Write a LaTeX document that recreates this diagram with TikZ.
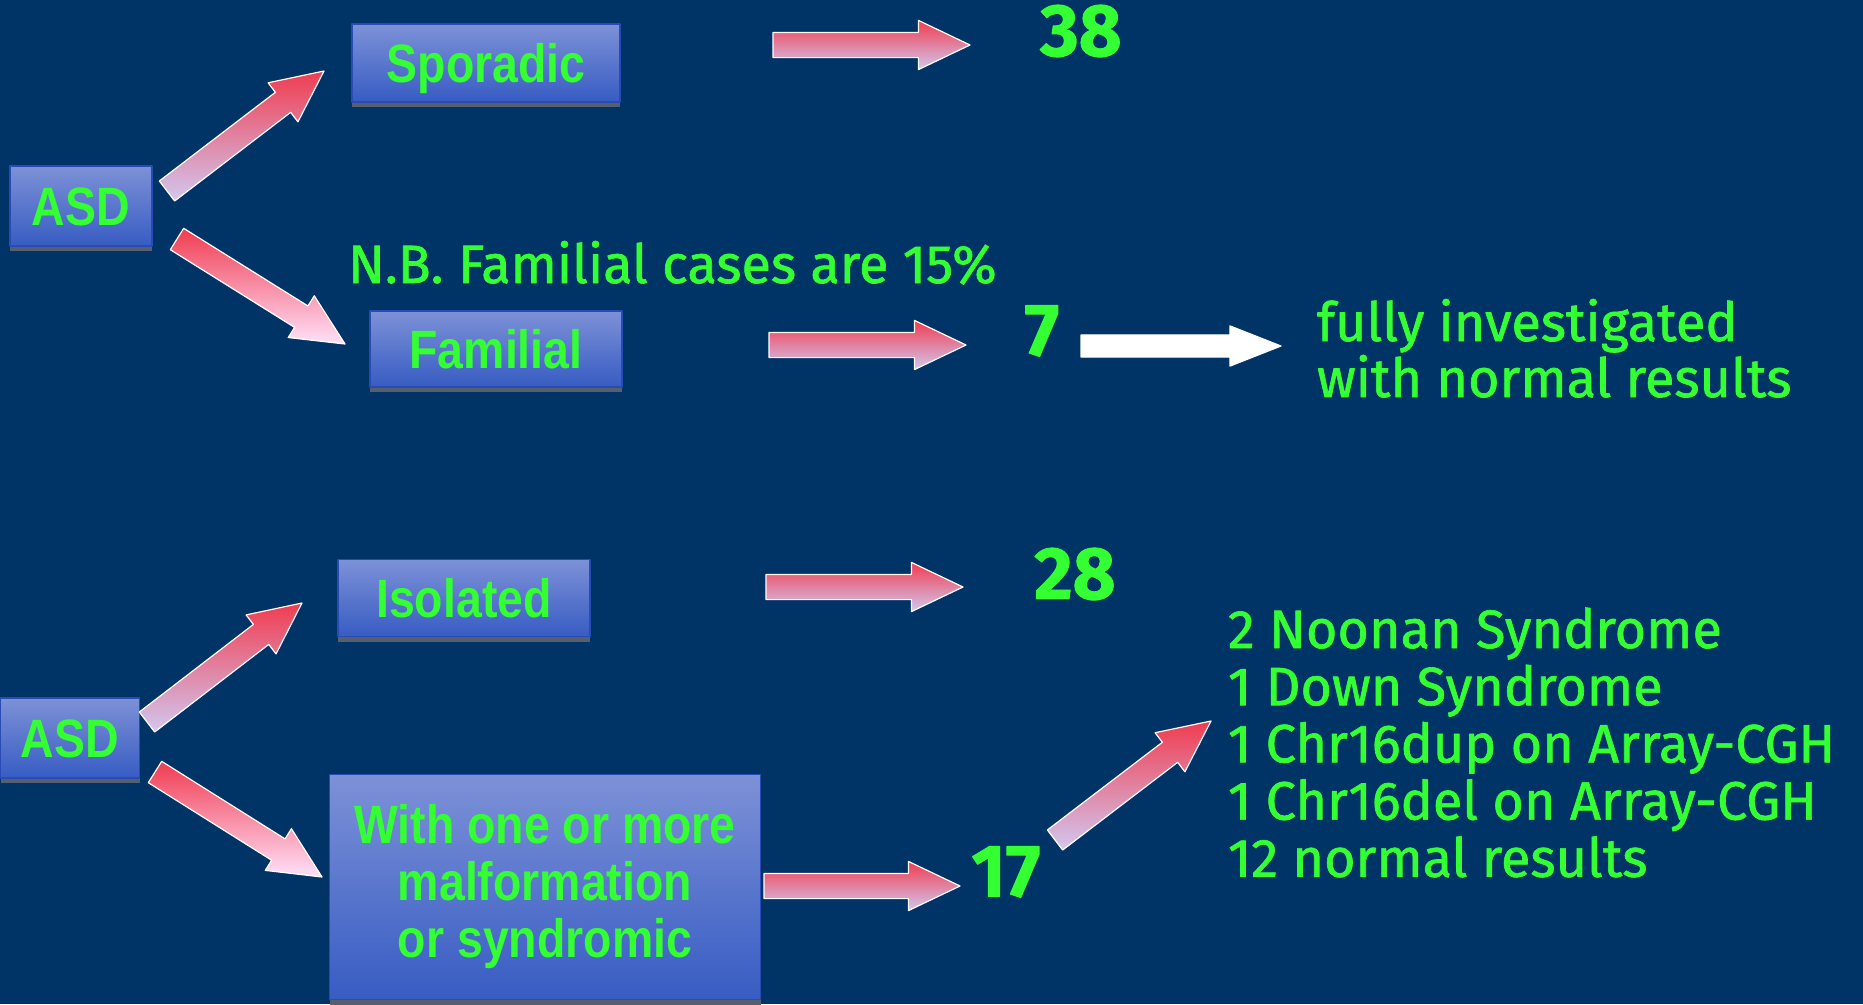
\documentclass[tikz,border=0pt]{standalone}
\usepackage{fontspec}
\usetikzlibrary{calc,shapes.arrows,shadows}
\newfontfamily\boxfont[FakeStretch=0.86]{Liberation Sans}
\newfontfamily\handfont[FakeBold=1.2]{Fira Sans}

\begin{document}
\begin{tikzpicture}[x=1pt, y=-1pt, line join=round,
    every node/.style={inner sep=0pt, outer sep=0pt},
    box/.style={draw=boxEdge, line width=1.2pt, top color=boxTop, bottom color=boxBot,
      text=txtGreen, align=center, font=\boxfont\bfseries\fontsize{54}{57}\selectfont,
      drop shadow={shadow xshift=0pt, shadow yshift=-5pt, fill=shadowGray, opacity=1}},
    onebox/.style={box, text height=39pt, text depth=0pt},
    hand/.style={text=txtGreen, anchor=base west, font=\handfont\fontsize{54}{57}\selectfont},
    count/.style={text=txtGreen, font=\handfont\bfseries\fontsize{74}{80}\selectfont},
    arrowbase/.style={single arrow, draw=white, line width=1.2pt, inner xsep=0pt,
      single arrow head indent=0pt, anchor=tail},
    fat/.style={arrowbase, inner ysep=12pt, single arrow head extend=12pt,
      single arrow tip angle=51, top color=arRed, bottom color=arLav},
    plainarr/.style={arrowbase, fill=white, inner ysep=10.5pt,
      single arrow head extend=9pt, single arrow tip angle=43}]
    \definecolor{bgNavy}{RGB}{0,51,102}
    \definecolor{txtGreen}{RGB}{51,255,51}
    \definecolor{boxTop}{RGB}{125,145,215}
    \definecolor{boxBot}{RGB}{55,92,195}
    \definecolor{boxEdge}{RGB}{40,75,180}
    \definecolor{shadowGray}{RGB}{85,95,110}
    \definecolor{arRed}{RGB}{240,60,80}
    \definecolor{arLav}{RGB}{210,200,240}
    \definecolor{arPink}{RGB}{255,225,250}
    % background and page size
    \fill[bgNavy] (0,0) rectangle (1863,1004);
    \useasboundingbox (0,0) rectangle (1863,1004);
    % ==== upper tree: sporadic / familial ====
    \node[onebox, minimum width=142pt, minimum height=80pt] (asdA) at (81,206) {ASD};
    \node[onebox, minimum width=268pt, minimum height=78pt] (spor) at (486,63) {Sporadic};
    \node[onebox, minimum width=252pt, minimum height=76pt] (fam) at (496,349) {Familial};
    \node[hand] (nb) at (348,283) {N.B. Familial cases are 15\%};
    \node[count] (n38) at (1081,31) {38};
    \node[count] (n7) at (1042,331) {7};
    \foreach \line [count=\i from 0] in {fully investigated, with normal results}
      \node[hand] (inv\i) at (1317,341+56*\i) {\line};
    % ==== lower tree: isolated / syndromic ====
    \node[onebox, minimum width=139pt, minimum height=80pt] (asdB) at (70,738) {ASD};
    \node[onebox, minimum width=252pt, minimum height=77pt] (iso) at (464,598) {Isolated};
    \node[box, minimum width=431pt, minimum height=225pt] (malf) at (545,887)
      {With one or more\\malformation\\or syndromic};
    \node[count] (n28) at (1075,574) {28};
    \node[count] (n17) at (1006,872) {17};
    \foreach \line [count=\i from 0] in {2 Noonan Syndrome, 1 Down Syndrome,
        1 Chr16dup on Array-CGH, 1 Chr16del on Array-CGH, 12 normal results}
      \node[hand] (res\i) at (1228,648+57.2*\i) {\line};
    % ==== block arrows: tail and tip points ====
    \coordinate (tSpo) at (167,191);  \coordinate (hSpo) at (324,71);
    \coordinate (tFam) at (177,239);  \coordinate (hFam) at (345,344);
    \coordinate (tIso) at (147,722);  \coordinate (hIso) at (302,603);
    \coordinate (tMal) at (155,772);  \coordinate (hMal) at (322,877);
    \coordinate (tRes) at (1055,840); \coordinate (hRes) at (1211,721);
    \coordinate (tA38) at (773,45);   \coordinate (hA38) at (970,45);
    \coordinate (tA7) at (769,345);   \coordinate (hA7) at (966,345);
    \coordinate (tA28) at (766,587);  \coordinate (hA28) at (963,587);
    \coordinate (tA17) at (764,886);  \coordinate (hA17) at (960,886);
    \coordinate (tInv) at (1081,346); \coordinate (hInv) at (1281,346);
    % red-to-lavender arrows
    \foreach \t/\h in {tSpo/hSpo, tIso/hIso, tRes/hRes, tA38/hA38, tA7/hA7, tA28/hA28, tA17/hA17}
      \path let \p1=(\t), \p2=(\h), \n1={atan2(\y2-\y1,\x2-\x1)},
          \n2={veclen(\x2-\x1,\y2-\y1)}
        in node[fat, rotate=\n1, minimum height=\n2] (arr\h) at (\p1) {};
    % pale arrows pointing down
    \foreach \t/\h in {tFam/hFam, tMal/hMal}
      \path let \p1=(\t), \p2=(\h), \n1={atan2(\y2-\y1,\x2-\x1)},
          \n2={veclen(\x2-\x1,\y2-\y1)}
        in node[fat, bottom color=arPink, rotate=\n1, minimum height=\n2] (arr\h) at (\p1) {};
    % white arrow after the familial count
    \path let \p1=(tInv), \p2=(hInv), \n2={veclen(\x2-\x1,\y2-\y1)}
      in node[plainarr, minimum height=\n2] (arrInv) at (\p1) {};
\end{tikzpicture}
\end{document}
